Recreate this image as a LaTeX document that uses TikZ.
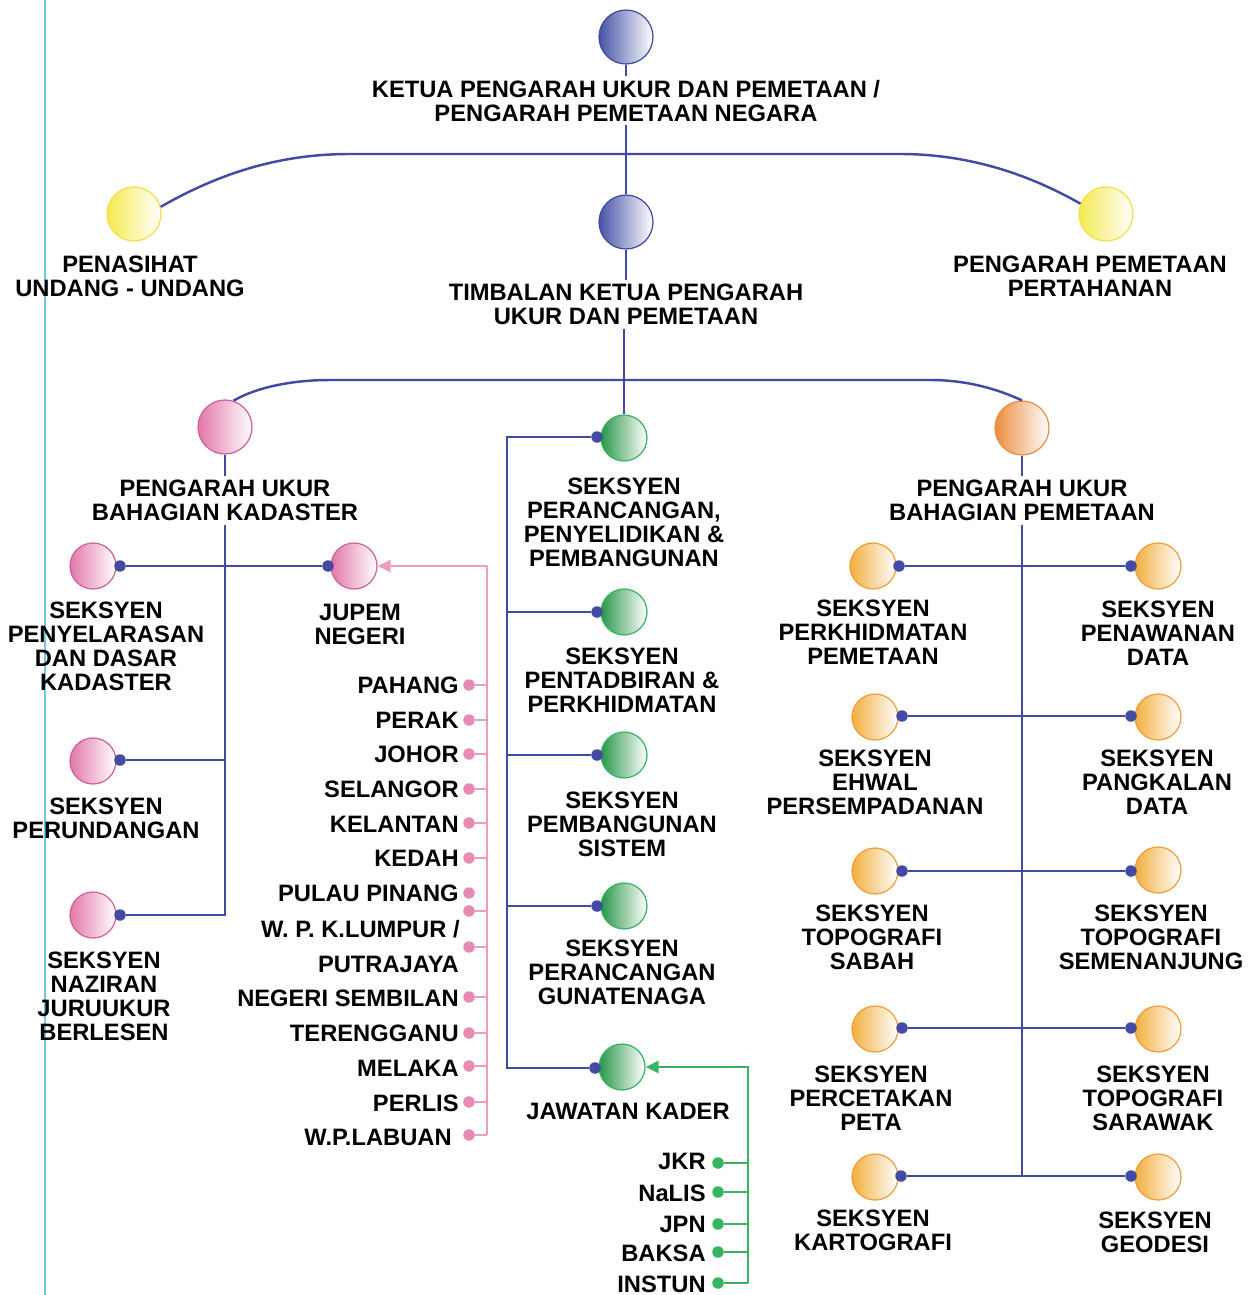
\documentclass[tikz,border=0pt]{standalone}
\usepackage{fontspec}
\setmainfont{Liberation Sans}
\usetikzlibrary{arrows.meta}

\definecolor{garisbiru}{RGB}{66,74,162}
\definecolor{gariscyan}{RGB}{110,200,232}
\definecolor{pink}{RGB}{230,140,180}
\definecolor{hijau}{RGB}{55,180,95}
\definecolor{biru}{RGB}{70,84,166}
\definecolor{kuning}{RGB}{244,234,80}
\definecolor{merah}{RGB}{226,120,166}
\definecolor{hijaugelap}{RGB}{40,150,72}
\definecolor{oren}{RGB}{236,140,62}
\definecolor{orenmuda}{RGB}{242,175,62}

\tikzset{
  bulat/.style={circle, inner sep=0pt, minimum size=1.08cm, line width=0.7pt},
  kecil/.style={circle, inner sep=0pt, minimum size=0.92cm, line width=0.7pt},
  cbiru/.style={draw=garisbiru, left color=biru, right color=white},
  ckuning/.style={draw=kuning!90!orange, left color=kuning, right color=white},
  cmerah/.style={draw=merah!80!violet, left color=merah, right color=white},
  chijau/.style={draw=hijau, left color=hijaugelap, right color=white},
  coren/.style={draw=oren, left color=oren, right color=white},
  corenmuda/.style={draw=orenmuda!90!red, left color=orenmuda, right color=white},
  teks/.style={anchor=north, align=center, inner sep=0pt, outer sep=0.08cm,
    font=\bfseries\fontsize{13.5}{13.66}\selectfont},
  negeri/.style={anchor=east, inner sep=0pt, font=\bfseries\fontsize{13.5}{13.66}\selectfont},
  bdot/.style={circle, fill=garisbiru, inner sep=0pt, minimum size=0.23cm},
  pdot/.style={circle, fill=pink, inner sep=0pt, minimum size=0.23cm},
  hdot/.style={circle, fill=hijau, inner sep=0pt, minimum size=0.23cm},
  garis/.style={draw=garisbiru, line width=1.4pt},
  garispink/.style={draw=pink!85!white, line width=1.4pt},
  garishijau/.style={draw=hijau, line width=1.4pt}
}

\begin{document}
\begin{tikzpicture}[x=0.02cm, y=-0.02cm]
  \useasboundingbox (0,0) rectangle (1251,1295);
  \draw[draw=gariscyan, line width=1.4pt] (45,0) -- (45,1295);

  % pengurusan atasan
  \node[bulat, cbiru] (ketua) at (626,37) {};
  \node[teks] (ketua-lbl) at (626,76) {KETUA PENGARAH UKUR DAN PEMETAAN /\\PENGARAH PEMETAAN NEGARA};
  \node[bulat, ckuning] (penasihat) at (134,214) {};
  \node[teks] (penasihat-lbl) at (130,252) {PENASIHAT\\UNDANG - UNDANG};
  \node[bulat, ckuning] (ppp) at (1106,214) {};
  \node[teks] (ppp-lbl) at (1090,252) {PENGARAH PEMETAAN\\PERTAHANAN};
  \node[bulat, cbiru] (timbalan) at (626,222) {};
  \node[teks] (timbalan-lbl) at (626,280) {TIMBALAN KETUA PENGARAH\\UKUR DAN PEMETAAN};

  % bahagian
  \node[bulat, cmerah] (pubk) at (225,427) {};
  \node[teks] (pubk-lbl) at (225,476) {PENGARAH UKUR\\BAHAGIAN KADASTER};
  \node[bulat, coren] (pubp) at (1022,428) {};
  \node[teks] (pubp-lbl) at (1022,476) {PENGARAH UKUR\\BAHAGIAN PEMETAAN};

  % kadaster
  \node[kecil, cmerah] (penyelarasan) at (93,566) {};
  \node[teks] (penyelarasan-lbl) at (106,598) {SEKSYEN\\PENYELARASAN\\DAN DASAR\\KADASTER};
  \node[kecil, cmerah] (jupem) at (354,566) {};
  \node[teks] (jupem-lbl) at (360,600) {JUPEM\\NEGERI};
  \node[kecil, cmerah] (perundangan) at (93,761) {};
  \node[teks] (perundangan-lbl) at (106,794) {SEKSYEN\\PERUNDANGAN};
  \node[kecil, cmerah] (naziran) at (93,915) {};
  \node[teks] (naziran-lbl) at (104,948) {SEKSYEN\\NAZIRAN\\JURUUKUR\\BERLESEN};
  \node[bdot] (d-penyelarasan) at (120,566) {};
  \node[bdot] (d-jupem) at (328,566) {};
  \node[bdot] (d-perundangan) at (120,760) {};
  \node[bdot] (d-naziran) at (120,915) {};

  % seksyen di bawah timbalan
  \node[kecil, chijau] (sppp) at (624,438) {};
  \node[teks] (sppp-lbl) at (624,474) {SEKSYEN\\PERANCANGAN,\\PENYELIDIKAN \&\\PEMBANGUNAN};
  \node[kecil, chijau] (spp) at (624,612) {};
  \node[teks] (spp-lbl) at (622,644) {SEKSYEN\\PENTADBIRAN \&\\PERKHIDMATAN};
  \node[kecil, chijau] (spb) at (624,755) {};
  \node[teks] (spb-lbl) at (622,788) {SEKSYEN\\PEMBANGUNAN\\SISTEM};
  \node[kecil, chijau] (spg) at (624,906) {};
  \node[teks] (spg-lbl) at (622,936) {SEKSYEN\\PERANCANGAN\\GUNATENAGA};
  \node[kecil, chijau] (kader) at (622,1067) {};
  \node[teks] (kader-lbl) at (628,1099) {JAWATAN KADER};
  \node[bdot] (d-sppp) at (597,437) {};
  \node[bdot] (d-spp) at (597,612) {};
  \node[bdot] (d-spb) at (597,755) {};
  \node[bdot] (d-spg) at (597,906) {};
  \node[bdot] (d-kader) at (595,1068) {};
  \coordinate (simpang) at (507,437);

  % pemetaan
  \node[kecil, corenmuda] (perkhidmatan) at (873,566) {};
  \node[teks] (perkhidmatan-lbl) at (873,596) {SEKSYEN\\PERKHIDMATAN\\PEMETAAN};
  \node[kecil, corenmuda] (penawanan) at (1158,566) {};
  \node[teks] (penawanan-lbl) at (1158,597) {SEKSYEN\\PENAWANAN\\DATA};
  \node[kecil, corenmuda] (ehwal) at (875,717) {};
  \node[teks] (ehwal-lbl) at (875,746) {SEKSYEN\\EHWAL\\PERSEMPADANAN};
  \node[kecil, corenmuda] (pangkalan) at (1158,717) {};
  \node[teks] (pangkalan-lbl) at (1157,746) {SEKSYEN\\PANGKALAN\\DATA};
  \node[kecil, corenmuda] (topsabah) at (875,871) {};
  \node[teks] (topsabah-lbl) at (872,901) {SEKSYEN\\TOPOGRAFI\\SABAH};
  \node[kecil, corenmuda] (topsem) at (1158,870) {};
  \node[teks] (topsem-lbl) at (1151,901) {SEKSYEN\\TOPOGRAFI\\SEMENANJUNG};
  \node[kecil, corenmuda] (percetakan) at (875,1029) {};
  \node[teks] (percetakan-lbl) at (871,1062) {SEKSYEN\\PERCETAKAN\\PETA};
  \node[kecil, corenmuda] (topsarawak) at (1158,1029) {};
  \node[teks] (topsarawak-lbl) at (1153,1062) {SEKSYEN\\TOPOGRAFI\\SARAWAK};
  \node[kecil, corenmuda] (kartografi) at (875,1177) {};
  \node[teks] (kartografi-lbl) at (873,1206) {SEKSYEN\\KARTOGRAFI};
  \node[kecil, corenmuda] (geodesi) at (1158,1177) {};
  \node[teks] (geodesi-lbl) at (1155,1208) {SEKSYEN\\GEODESI};
  \node[bdot] (d-perkhidmatan) at (899,566) {};
  \node[bdot] (d-penawanan) at (1131,566) {};
  \node[bdot] (d-ehwal) at (902,716) {};
  \node[bdot] (d-pangkalan) at (1131,716) {};
  \node[bdot] (d-topsabah) at (902,871) {};
  \node[bdot] (d-topsem) at (1131,871) {};
  \node[bdot] (d-percetakan) at (902,1028) {};
  \node[bdot] (d-topsarawak) at (1131,1028) {};
  \node[bdot] (d-kartografi) at (901,1176) {};
  \node[bdot] (d-geodesi) at (1131,1176) {};

  % jupem negeri
  \node[negeri] (n-pahang) at (459,685) {PAHANG};
  \node[negeri] (n-perak) at (459,720) {PERAK};
  \node[negeri] (n-johor) at (459,754) {JOHOR};
  \node[negeri] (n-selangor) at (459,789) {SELANGOR};
  \node[negeri] (n-kelantan) at (459,824) {KELANTAN};
  \node[negeri] (n-kedah) at (459,858) {KEDAH};
  \node[negeri] (n-pinang) at (459,893) {PULAU PINANG};
  \node[negeri] (n-klumpur) at (460,929) {W. P. K.LUMPUR /};
  \node[negeri] (n-putrajaya) at (459,964) {PUTRAJAYA};
  \node[negeri] (n-nsembilan) at (459,998) {NEGERI SEMBILAN};
  \node[negeri] (n-terengganu) at (459,1033) {TERENGGANU};
  \node[negeri] (n-melaka) at (459,1068) {MELAKA};
  \node[negeri] (n-perlis) at (459,1103) {PERLIS};
  \node[negeri] (n-labuan) at (452,1137) {W.P.LABUAN};
  \node[pdot] (d-pahang) at (469,685) {};
  \node[pdot] (d-perak) at (469,720) {};
  \node[pdot] (d-johor) at (469,754) {};
  \node[pdot] (d-selangor) at (469,789) {};
  \node[pdot] (d-kelantan) at (469,823) {};
  \node[pdot] (d-kedah) at (469,858) {};
  \node[pdot] (d-pinang) at (469,893) {};
  \node[pdot] (d-klumpur) at (469,911) {};
  \node[pdot] (d-putrajaya) at (469,947) {};
  \node[pdot] (d-nsembilan) at (469,997) {};
  \node[pdot] (d-terengganu) at (469,1033) {};
  \node[pdot] (d-melaka) at (469,1066) {};
  \node[pdot] (d-perlis) at (469,1102) {};
  \node[pdot] (d-labuan) at (469,1135) {};
  \coordinate (pink-bawah) at (487,1135);

  % jawatan kader
  \node[negeri] (n-jkr) at (706,1161) {JKR};
  \node[negeri] (n-nalis) at (706,1193) {NaLIS};
  \node[negeri] (n-jpn) at (706,1224) {JPN};
  \node[negeri] (n-baksa) at (706,1253) {BAKSA};
  \node[negeri] (n-instun) at (706,1284) {INSTUN};
  \node[hdot] (d-jkr) at (718,1163) {};
  \node[hdot] (d-nalis) at (718,1192) {};
  \node[hdot] (d-jpn) at (718,1224) {};
  \node[hdot] (d-baksa) at (718,1252) {};
  \node[hdot] (d-instun) at (718,1283) {};
  \coordinate (hijau-bawah) at (748,1283);

  \begin{scope}[garis]
    \draw (ketua) to (ketua |- ketua-lbl.north);
    \draw (ketua |- ketua-lbl.south) to (timbalan);
    \draw (penasihat.15) .. controls (225,170) and (285,154) .. (350,154)
      -- (900,154) .. controls (970,154) and (1030,175) .. (ppp.158);
    \draw (timbalan) to (timbalan |- timbalan-lbl.north);
    \draw (sppp |- timbalan-lbl.south) to (sppp);
    \draw (pubk.72) .. controls (255,388) and (290,380) .. (330,380)
      -- (930,380) .. controls (965,380) and (995,388) .. (pubp.north);
    \draw (pubk) to (pubk |- pubk-lbl.north);
    \draw (pubk-lbl.south) -- (pubk-lbl.south |- d-naziran) -- (d-naziran);
    \draw (d-penyelarasan) to (d-jupem);
    \draw (d-perundangan) to (d-perundangan -| pubk-lbl.south);
    \draw (d-sppp) -- (simpang) |- (d-kader);
    \draw (d-spp) to (d-spp -| simpang);
    \draw (d-spb) to (d-spb -| simpang);
    \draw (d-spg) to (d-spg -| simpang);
    \draw (pubp) to (pubp |- pubp-lbl.north);
    \draw (pubp-lbl.south) to (pubp-lbl.south |- d-kartografi);
    \draw (d-perkhidmatan) to (d-penawanan);
    \draw (d-ehwal) to (d-pangkalan);
    \draw (d-topsabah) to (d-topsem);
    \draw (d-percetakan) to (d-topsarawak);
    \draw (d-kartografi) to (d-geodesi);
  \end{scope}

  \begin{scope}[garispink]
    \draw[-{Triangle[length=0.26cm, width=0.24cm]}] (pink-bawah) |- (jupem);
    \draw (d-pahang) to (d-pahang -| pink-bawah);
    \draw (d-perak) to (d-perak -| pink-bawah);
    \draw (d-johor) to (d-johor -| pink-bawah);
    \draw (d-selangor) to (d-selangor -| pink-bawah);
    \draw (d-kelantan) to (d-kelantan -| pink-bawah);
    \draw (d-kedah) to (d-kedah -| pink-bawah);
    \draw (d-klumpur) to (d-klumpur -| pink-bawah);
    \draw (d-putrajaya) to (d-putrajaya -| pink-bawah);
    \draw (d-nsembilan) to (d-nsembilan -| pink-bawah);
    \draw (d-terengganu) to (d-terengganu -| pink-bawah);
    \draw (d-melaka) to (d-melaka -| pink-bawah);
    \draw (d-perlis) to (d-perlis -| pink-bawah);
    \draw (d-labuan) to (pink-bawah);
  \end{scope}

  \begin{scope}[garishijau]
    \draw[-{Triangle[length=0.26cm, width=0.24cm]}] (hijau-bawah) |- (kader);
    \draw (d-jkr) to (d-jkr -| hijau-bawah);
    \draw (d-nalis) to (d-nalis -| hijau-bawah);
    \draw (d-jpn) to (d-jpn -| hijau-bawah);
    \draw (d-baksa) to (d-baksa -| hijau-bawah);
    \draw (d-instun) to (hijau-bawah);
  \end{scope}
\end{tikzpicture}
\end{document}
